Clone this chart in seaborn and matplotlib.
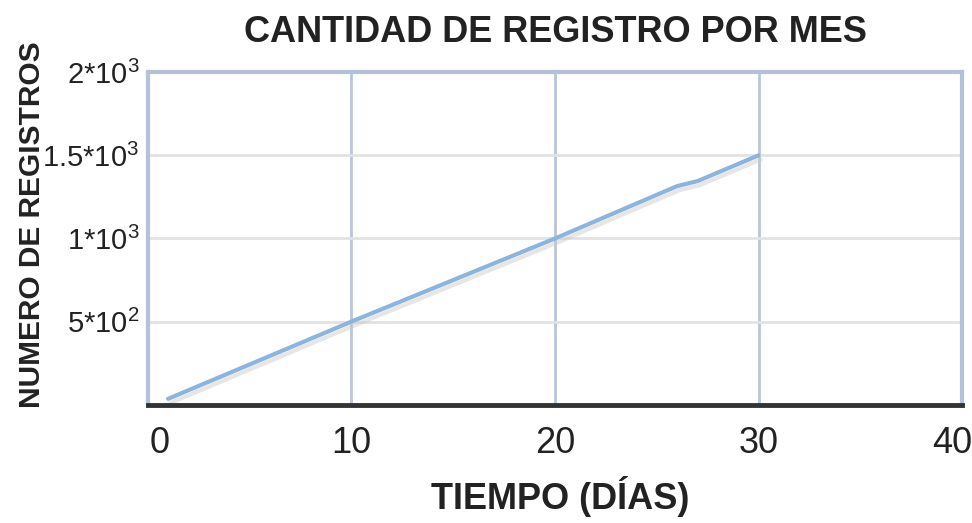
import matplotlib
matplotlib.use("Agg")
import matplotlib.pyplot as plt
import matplotlib.patheffects as pe
import matplotlib.transforms as mtransforms
import seaborn as sns
import pandas as pd

# Registros acumulados por día
dias = [1, 10, 20, 26, 27, 30]
registros = [36, 500, 1000, 1315, 1345, 1500]

x_ticks = [0, 10, 20, 30, 40]
y_ticks = [500, 1000, 1500, 2000]
y_tick_labels = ["5*10$^{2}$", "1*10$^{3}$", "1.5*10$^{3}$", "2*10$^{3}$"]

sns.set_theme(style="white")
plt.rcParams["font.family"] = ["Liberation Sans", "DejaVu Sans"]
plt.rcParams["mathtext.default"] = "regular"

df = pd.DataFrame({"dia": dias, "registros": registros})

fig = plt.figure(figsize=(9.72, 5.23), dpi=100)
ax = fig.add_axes([0.152, 0.226, 0.838, 0.636])

sns.lineplot(data=df, x="dia", y="registros", ax=ax, color="#8db4dc", linewidth=3,
             path_effects=[pe.SimpleLineShadow(offset=(1.5, -3), shadow_color="#c8c8c8", alpha=0.45),
                           pe.Normal()])

ax.set_xlim(0, 40)
ax.set_ylim(0, 2000)
ax.set_xticks(x_ticks)
ax.set_yticks(y_ticks)
ax.set_yticklabels(y_tick_labels)

# Rejilla: verticales azuladas, horizontales grises
for xv in x_ticks[1:-1]:
    ax.axvline(xv, color="#b9c6d8", linewidth=2, zorder=0)
for yv in y_ticks[:-1]:
    ax.axhline(yv, color="#e2e2e2", linewidth=2, zorder=0)

for side in ["left", "top", "right"]:
    ax.spines[side].set_color("#b3c2d6")
    ax.spines[side].set_linewidth(3)
ax.spines["bottom"].set_color("#333333")
ax.spines["bottom"].set_linewidth(3.5)

ax.tick_params(axis="both", length=0, colors="#222222")
ax.tick_params(axis="x", pad=15, labelsize=26)
ax.tick_params(axis="y", pad=6, labelsize=21)

# Desplazar ligeramente las etiquetas extremas del eje x hacia dentro
xlabels = ax.get_xticklabels()
xlabels[0].set_transform(xlabels[0].get_transform() +
                         mtransforms.ScaledTranslation(12 / 100, 0, fig.dpi_scale_trans))
xlabels[-1].set_transform(xlabels[-1].get_transform() +
                          mtransforms.ScaledTranslation(-10 / 100, 0, fig.dpi_scale_trans))

ax.set_xlabel("TIEMPO (DÍAS)", fontsize=26, fontweight="bold", color="#222222")
ax.xaxis.set_label_coords(0.506, -0.215)
ax.set_ylabel("NUMERO DE REGISTROS", fontsize=21.5, fontweight="bold", color="#222222")
ax.yaxis.set_label_coords(-0.125, 0.54)
ax.set_title("CANTIDAD DE REGISTRO POR MES", fontsize=26, fontweight="bold", color="#222222", pad=22)

fig.savefig("out.png", dpi=100)
